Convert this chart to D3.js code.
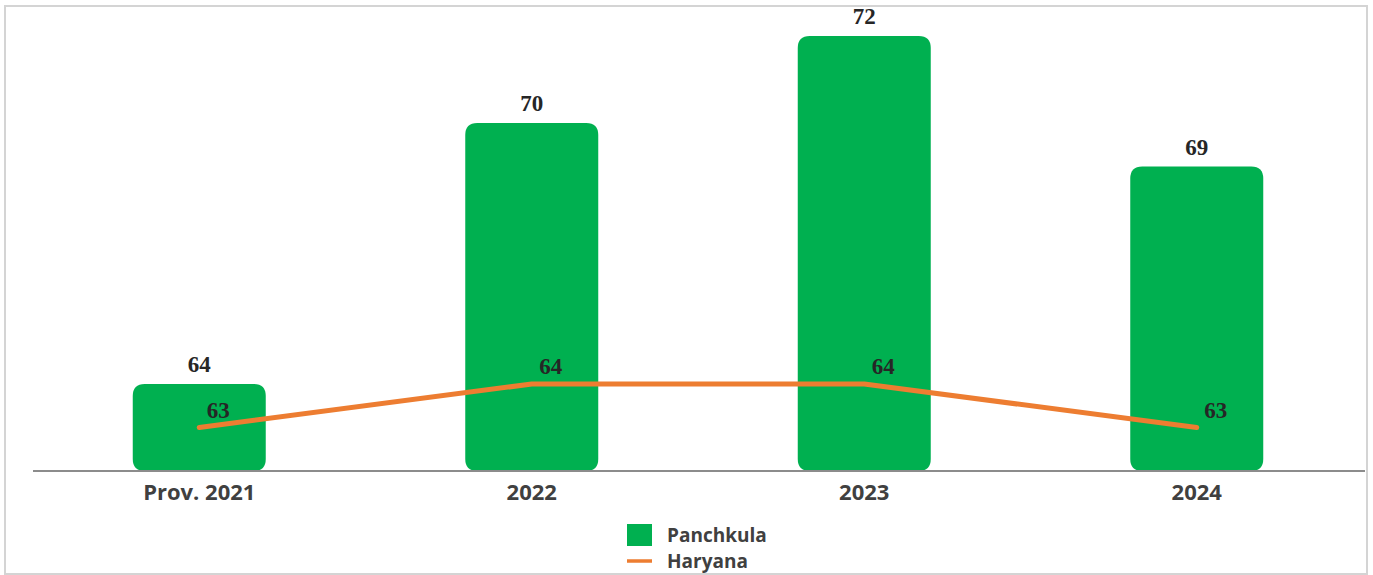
<!DOCTYPE html>
<html>
<head>
<meta charset="utf-8">
<script src="https://cdn.jsdelivr.net/npm/d3@7"></script>
<style>
  body { margin: 0; background: #fff; }
</style>
</head>
<body>
<div id="chart"></div>
<script>
'use strict';

const width = 1373;
const height = 575;

const categories = ['Prov. 2021', '2022', '2023', '2024'];
const panchkula = [64, 70, 72, 69];
const haryana = [63, 64, 64, 63];

const green = '#00b050';
const orange = '#ed7d31';

const svg = d3.select('#chart').append('svg')
    .attr('width', width)
    .attr('height', height);

// outer frame
svg.append('rect')
    .attr('x', 5).attr('y', 6)
    .attr('width', 1362).attr('height', 568)
    .attr('fill', 'none')
    .attr('stroke', '#d4d4d4')
    .attr('stroke-width', 2);

const x = d3.scaleBand()
    .domain(categories)
    .range([33, 1363])
    .paddingInner(0.6)
    .paddingOuter(0.3);

const y = d3.scaleLinear()
    .domain([62, 72])
    .range([471, 36]);

// bars with rounded corners
const r = 12;
svg.append('g').selectAll('path')
    .data(panchkula)
    .enter().append('path')
    .attr('fill', green)
    .attr('d', (d, i) => {
        const x0 = x(categories[i]), x1 = x0 + x.bandwidth();
        const top = y(d), bot = y(62);
        return `M${x0},${bot - r} L${x0},${top + r} Q${x0},${top} ${x0 + r},${top}
                L${x1 - r},${top} Q${x1},${top} ${x1},${top + r}
                L${x1},${bot - r} Q${x1},${bot} ${x1 - r},${bot}
                L${x0 + r},${bot} Q${x0},${bot} ${x0},${bot - r} Z`;
    });

// baseline axis
const xAxis = d3.axisBottom(x).tickSize(0).tickPadding(13);
const axisG = svg.append('g')
    .attr('transform', `translate(0,${y(62)})`)
    .call(xAxis);
axisG.select('.domain')
    .attr('d', 'M33,0H1365')
    .attr('stroke', '#8c8c8c')
    .attr('stroke-width', 2);
axisG.selectAll('text')
    .attr('font-family', '"Open Sans", sans-serif')
    .attr('font-weight', 'bold')
    .attr('font-size', 22)
    .attr('fill', '#404040')
    .attr('dy', '0.72em');

// bar value labels
svg.append('g').selectAll('text')
    .data(panchkula)
    .enter().append('text')
    .attr('x', (d, i) => x(categories[i]) + x.bandwidth() / 2)
    .attr('y', d => y(d) - 12)
    .attr('text-anchor', 'middle')
    .attr('font-family', '"Liberation Serif", serif')
    .attr('font-weight', 'bold')
    .attr('font-size', 23)
    .attr('fill', '#262626')
    .text(d => d);

// Haryana line
const line = d3.line()
    .x((d, i) => x(categories[i]) + x.bandwidth() / 2)
    .y(d => y(d));

svg.append('path')
    .datum(haryana)
    .attr('d', line)
    .attr('fill', 'none')
    .attr('stroke', orange)
    .attr('stroke-width', 5)
    .attr('stroke-linecap', 'round')
    .attr('stroke-linejoin', 'round');

svg.append('g').selectAll('text')
    .data(haryana)
    .enter().append('text')
    .attr('x', (d, i) => x(categories[i]) + x.bandwidth() / 2 + 19)
    .attr('y', d => y(d) - 10)
    .attr('text-anchor', 'middle')
    .attr('font-family', '"Liberation Serif", serif')
    .attr('font-weight', 'bold')
    .attr('font-size', 23)
    .attr('fill', '#262626')
    .text(d => d);

// legend
const legend = svg.append('g');
legend.append('rect')
    .attr('x', 627).attr('y', 524)
    .attr('width', 25).attr('height', 22)
    .attr('fill', green);
legend.append('line')
    .attr('x1', 627).attr('x2', 652)
    .attr('y1', 561).attr('y2', 561)
    .attr('stroke', orange)
    .attr('stroke-width', 3.5);

const legendNames = ['Panchkula', 'Haryana'];
legend.selectAll('text')
    .data(legendNames)
    .enter().append('text')
    .attr('x', 667)
    .attr('y', (d, i) => 542 + i * 26)
    .attr('font-family', '"Open Sans", sans-serif')
    .attr('font-weight', 'bold')
    .attr('font-size', 19)
    .attr('fill', '#404040')
    .text(d => d);
</script>
</body>
</html>
